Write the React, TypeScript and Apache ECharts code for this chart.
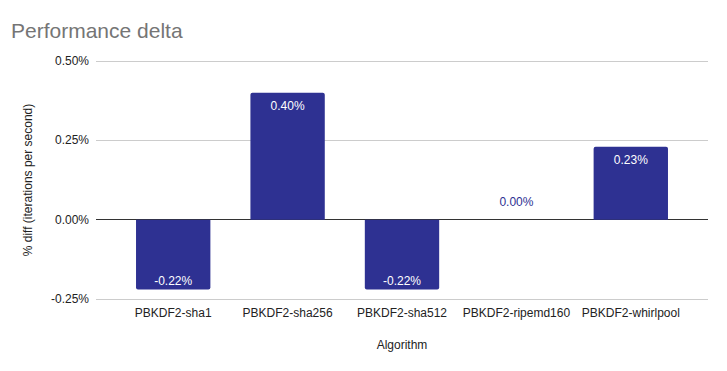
import React, { useEffect, useRef } from "react";
import * as echarts from "echarts";

const categories = ["PBKDF2-sha1", "PBKDF2-sha256", "PBKDF2-sha512", "PBKDF2-ripemd160", "PBKDF2-whirlpool"];
const values = [-0.22, 0.4, -0.22, 0.0, 0.23];
const yTicks = { min: -0.25, max: 0.5, interval: 0.25 };

const BAR = "#2e3192";

export default function App() {
  const ref = useRef<HTMLDivElement>(null);
  useEffect(() => {
    const chart = echarts.init(ref.current!, null, { renderer: "svg" });
    const font = "Arial, 'Liberation Sans', sans-serif";
    const data = values.map((v) => {
      let label: any;
      if (v > 0) label = { position: "insideTop", distance: 7, color: "#fff" };
      else if (v < 0) label = { position: "insideBottom", distance: 2, color: "#fff" };
      else label = { position: "top", distance: 12, color: BAR };
      return {
        value: v,
        label,
        itemStyle: { borderRadius: v >= 0 ? [2, 2, 0, 0] : [0, 0, 2, 2] },
      };
    });
    chart.setOption({
      animation: false,
      textStyle: { fontFamily: font },
      title: {
        text: "Performance delta",
        left: 6,
        top: 15,
        textStyle: { fontSize: 21, fontWeight: "normal", color: "#757575", fontFamily: font },
      },
      grid: [
        { left: 96, right: 19, top: 61, bottom: 72 },
        { left: 116, right: 39, top: 61, bottom: 72 },
      ],
      xAxis: [
        { gridIndex: 0, type: "value", show: false, min: 0, max: 1 },
        {
          gridIndex: 1,
          type: "category",
          data: categories,
          axisLine: { show: false },
          axisTick: { show: false },
          axisLabel: { interval: 0, margin: 8, color: "#222", fontSize: 12, fontFamily: font },
          name: "Algorithm",
          nameLocation: "middle",
          nameGap: 40,
          nameTextStyle: { color: "#222", fontSize: 12, fontFamily: font },
        },
      ],
      yAxis: [
        {
          gridIndex: 0,
          type: "value",
          min: yTicks.min,
          max: yTicks.max,
          interval: yTicks.interval,
          axisLine: { show: false },
          axisTick: { show: false },
          axisLabel: {
            margin: 7,
            color: "#222",
            fontSize: 12,
            fontFamily: font,
            formatter: (v: number) => v.toFixed(2) + "%",
          },
          splitLine: { lineStyle: { color: ["#cccccc", "#333333", "#cccccc", "#cccccc"], width: 1 } },
          name: "% diff (iterations per second)",
          nameLocation: "middle",
          nameGap: 62,
          nameTextStyle: { color: "#222", fontSize: 12, fontFamily: font },
        },
        {
          gridIndex: 1,
          type: "value",
          min: yTicks.min,
          max: yTicks.max,
          interval: yTicks.interval,
          show: false,
        },
      ],
      series: [
        {
          type: "bar",
          xAxisIndex: 1,
          yAxisIndex: 1,
          data,
          barCategoryGap: "35%",
          itemStyle: { color: BAR },
          label: {
            show: true,
            fontSize: 12,
            fontFamily: font,
            formatter: (p: any) => Number(p.value).toFixed(2) + "%",
          },
        },
      ],
    });
    return () => chart.dispose();
  }, []);
  return <div ref={ref} style={{ width: 727, height: 371, position: "absolute", left: 0, top: 0 }} />;
}
